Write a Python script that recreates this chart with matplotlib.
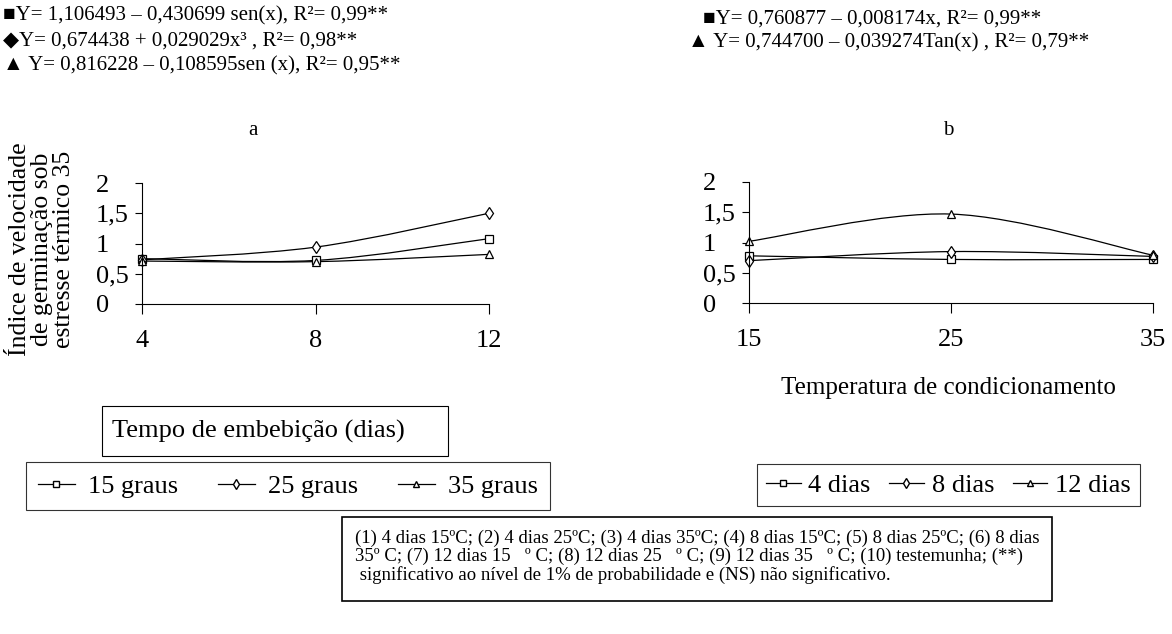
import matplotlib
matplotlib.use("Agg")
import matplotlib.pyplot as plt
import numpy as np
from matplotlib.path import Path
from matplotlib.patches import PathPatch, Rectangle
from matplotlib.lines import Line2D

plt.rcParams['font.family'] = ['Liberation Serif', 'DejaVu Sans']

# painel a: tempo de embebicao
dias = [4, 8, 12]
graus_15 = [0.75, 0.72, 1.08]
graus_25 = [0.73, 0.94, 1.50]
graus_35 = [0.71, 0.70, 0.82]
nomes_a = ['15 graus', '25 graus', '35 graus']

# painel b: temperatura de condicionamento
temperaturas = [15, 25, 35]
dias_4 = [0.78, 0.72, 0.72]
dias_8 = [0.70, 0.85, 0.77]
dias_12 = [1.02, 1.47, 0.79]
nomes_b = ['4 dias', '8 dias', '12 dias']

marcadores = ['s', 'd', '^']
yticks = [0, 0.5, 1, 1.5, 2]
ytick_labels = ['0', '0,5', '1', '1,5', '2']

eq_a = ['■Y= 1,106493 – 0,430699 sen(x), R²= 0,99**',
        '◆Y= 0,674438 + 0,029029x³ , R²= 0,98**',
        '▲ Y= 0,816228 – 0,108595sen (x), R²= 0,95**']
eq_b = ['■Y= 0,760877 – 0,008174x, R²= 0,99**',
        '▲ Y= 0,744700 – 0,039274Tan(x) , R²= 0,79**']

nota = ('(1) 4 dias 15ºC; (2) 4 dias 25ºC; (3) 4 dias 35ºC; (4) 8 dias 15ºC; (5) 8 dias 25ºC; (6) 8 dias\n'
        '35º C; (7) 12 dias 15   º C; (8) 12 dias 25   º C; (9) 12 dias 35   º C; (10) testemunha; (**)\n'
        ' significativo ao nível de 1% de probabilidade e (NS) não significativo.')

W, H = 1172, 634
fig = plt.figure(figsize=(W / 100, H / 100), dpi=100)


def px(x, y):
    return x / W, 1 - y / H


def smooth_path(xs, ys):
    # curva suavizada (estilo Excel) passando pelos pontos
    pts = np.column_stack([xs, ys]).astype(float)
    ext = np.vstack([pts[0], pts, pts[-1]])
    verts = [pts[0]]
    codes = [Path.MOVETO]
    for i in range(len(pts) - 1):
        p0, p1, p2, p3 = ext[i], ext[i + 1], ext[i + 2], ext[i + 3]
        verts += [p1 + (p2 - p0) / 6, p2 - (p3 - p1) / 6, p2]
        codes += [Path.CURVE4] * 3
    return Path(verts, codes)


def painel(ax, xs, series, xlim):
    for ys, m in zip(series, marcadores):
        ax.add_patch(PathPatch(smooth_path(xs, ys), fill=False, lw=0.9, ec='black'))
        ax.plot(xs, ys, m, ms=6, mfc='white', mec='black', mew=0.9, clip_on=False)
    ax.set_xlim(*xlim)
    ax.set_ylim(0, 2)
    ax.set_xticks(xs)
    ax.set_yticks(yticks)
    ax.set_yticklabels(ytick_labels, ha='left')
    for s in ['top', 'right']:
        ax.spines[s].set_visible(False)
    for s in ['left', 'bottom']:
        ax.spines[s].set_linewidth(0.8)
    ax.tick_params(axis='y', direction='out', length=5, width=0.8, labelsize=19, pad=28)
    ax.tick_params(axis='x', direction='out', length=7, width=0.8, labelsize=19, pad=12)


ax1 = fig.add_axes([142 / W, 1 - 304 / H, 347 / W, 121 / H])
painel(ax1, dias, [graus_15, graus_25, graus_35], (4, 12))
ax2 = fig.add_axes([749 / W, 1 - 303 / H, 404 / W, 121 / H])
painel(ax2, temperaturas, [dias_4, dias_8, dias_12], (15, 35))

# rotulo do eixo y
fig.text(*px(42, 249), 'Índice de velocidade\nde germinação sob\nestresse térmico 35',
         rotation=90, ha='center', va='center', fontsize=18.5, linespacing=1.0)

# equacoes
for i, t in enumerate(eq_a):
    fig.text(*px(3, 16 + 25 * i), t, fontsize=15, va='center')
for i, t, x0 in zip(range(2), eq_b, [703, 688]):
    fig.text(*px(x0, 19 + 24 * i), t, fontsize=15, va='center')

fig.text(*px(253, 130), 'a', fontsize=15, ha='center', va='center')
fig.text(*px(948, 130), 'b', fontsize=15, ha='center', va='center')

# titulo do eixo x do painel a, em caixa
fig.patches.append(Rectangle(px(102, 456), 346 / W, 50 / H, transform=fig.transFigure,
                             fill=False, ec='black', lw=0.8))
fig.text(*px(112, 431), 'Tempo de embebição (dias)', fontsize=19, va='center')
fig.text(*px(948, 388), 'Temperatura de condicionamento', fontsize=18, ha='center', va='center')

# legendas
h_a = [Line2D([], [], color='black', lw=0.9, marker=m, ms=5, mfc='white', mec='black')
       for m in marcadores]
leg1 = fig.legend(h_a, nomes_a, loc='center left', bbox_to_anchor=px(26, 486), ncol=3,
                  fontsize=19, frameon=True, fancybox=False, edgecolor='black', borderaxespad=0,
                  handlelength=1.4, columnspacing=1.5, handletextpad=0.5, borderpad=0.45)
leg1.get_frame().set_linewidth(0.8)
leg2 = fig.legend(h_a, nomes_b, loc='center left', bbox_to_anchor=px(757, 485), ncol=3,
                  fontsize=19, frameon=True, fancybox=False, edgecolor='black', borderaxespad=0,
                  handlelength=1.3, columnspacing=0.7, handletextpad=0.3, borderpad=0.35)
leg2.get_frame().set_linewidth(0.8)

# caixa de notas
fig.patches.append(Rectangle(px(342, 601), 710 / W, 84 / H, transform=fig.transFigure,
                             fill=False, ec='black', lw=1.2))
fig.text(*px(355, 557), nota, fontsize=13.5, va='center', linespacing=1.08)

fig.savefig('out.png', dpi=100)
